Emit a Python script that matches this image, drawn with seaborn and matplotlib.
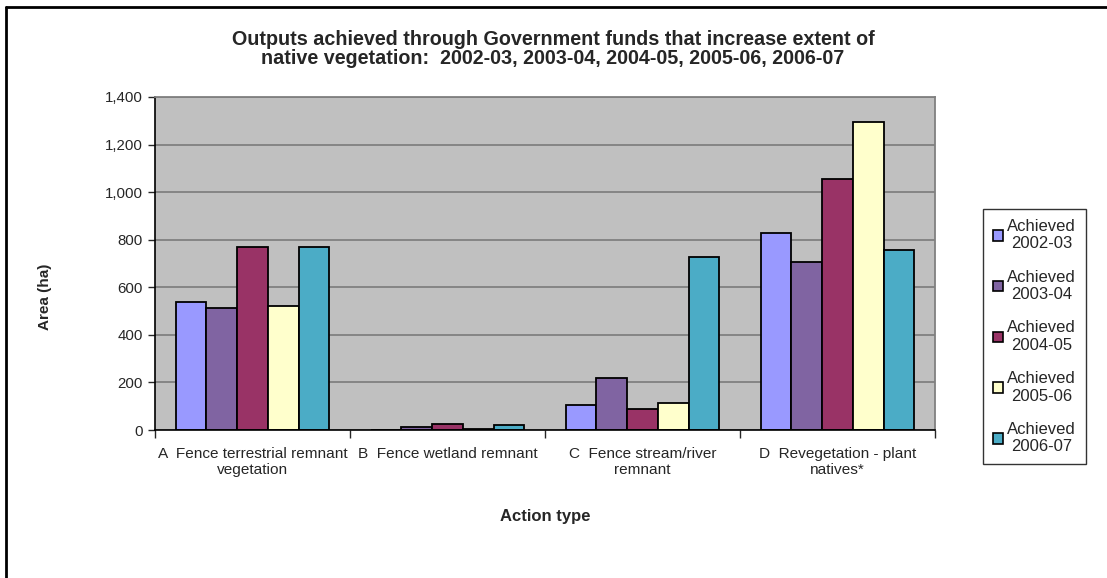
# Grouped bar chart of outputs achieved per action type and year

import pandas as pd
import seaborn as sns
import matplotlib.pyplot as plt
from matplotlib.lines import Line2D
from matplotlib.ticker import FuncFormatter, FixedLocator

categories = ['A  Fence terrestrial remnant\nvegetation',
              'B  Fence wetland remnant',
              'C  Fence stream/river\nremnant',
              'D  Revegetation - plant\nnatives*']
years = ['Achieved\n2002-03', 'Achieved\n2003-04', 'Achieved\n2004-05',
         'Achieved\n2005-06', 'Achieved\n2006-07']
achieved_2002_03 = [540, 0, 105, 828]
achieved_2003_04 = [512, 13, 218, 706]
achieved_2004_05 = [770, 27, 90, 1055]
achieved_2005_06 = [520, 5, 113, 1295]
achieved_2006_07 = [770, 22, 726, 757]
colours = ['#9999FF', '#8064A2', '#993366', '#FFFFCC', '#4BACC6']


def build_frame():
    series = [achieved_2002_03, achieved_2003_04, achieved_2004_05,
              achieved_2005_06, achieved_2006_07]
    rows = []
    for year, values in zip(years, series):
        for cat, val in zip(categories, values):
            rows.append({'category': cat, 'year': year, 'area': val})
    return pd.DataFrame(rows)


def main():
    df = build_frame()
    sns.set_style('white')
    plt.rcParams['font.family'] = ['Liberation Sans', 'DejaVu Sans']

    fig = plt.figure(figsize=(11.07, 5.78), dpi=100)
    ax = fig.add_axes([155 / 1107, 1 - 430 / 578, 780 / 1107, 333 / 578])
    ax.set_facecolor('#C0C0C0')
    ax.set_axisbelow(True)
    ax.yaxis.grid(True, color='#808080', linewidth=1.3)

    sns.barplot(data=df, x='category', y='area', hue='year', order=categories,
                hue_order=years, palette=colours, saturation=1, width=0.787,
                gap=0, edgecolor='black', linewidth=1.3, ax=ax, legend=False)

    ax.set_xlim(-0.5, 3.5)
    ax.set_ylim(0, 1400)
    ax.set_yticks(range(0, 1401, 200))
    ax.yaxis.set_major_formatter(FuncFormatter(lambda v, p: f'{int(v):,}'))
    ax.tick_params(axis='y', left=True, length=5, width=1, direction='out',
                   labelsize=10.8, pad=4)

    # category boundaries as ticks, labels in the middle
    ax.xaxis.set_major_locator(FixedLocator([-0.5, 0.5, 1.5, 2.5, 3.5]))
    ax.xaxis.set_minor_locator(FixedLocator([0, 1, 2, 3]))
    ax.set_xticklabels([], minor=False)
    ax.set_xticklabels(categories, minor=True, fontsize=11.1)
    ax.tick_params(axis='x', which='major', bottom=True, length=6, width=1,
                   direction='out')
    ax.tick_params(axis='x', which='minor', bottom=False, length=0, pad=12)
    ax.set_xlabel('')
    ax.set_ylabel('')

    for side in ['left', 'bottom']:
        ax.spines[side].set_color('black')
        ax.spines[side].set_linewidth(1.2)
    for side in ['top', 'right']:
        ax.spines[side].set_color('#808080')
        ax.spines[side].set_linewidth(1.3)

    fig.text(553 / 1107, 1 - 49 / 578,
             'Outputs achieved through Government funds that increase extent of\n'
             'native vegetation:  2002-03, 2003-04, 2004-05, 2005-06, 2006-07',
             ha='center', va='center', fontsize=14.2, fontweight='bold',
             linespacing=0.95)
    fig.text(45 / 1107, 1 - 297 / 578, 'Area (ha)', rotation=90, ha='center',
             va='center', fontsize=11, fontweight='bold')
    fig.text(545 / 1107, 1 - 516 / 578, 'Action type', ha='center',
             va='center', fontsize=12, fontweight='bold')

    handles = [plt.Rectangle((0, 0), 1, 1, facecolor=c, edgecolor='black',
                             linewidth=1.2) for c in colours]
    leg = fig.legend(handles, years, loc='upper left',
                     bbox_to_anchor=(983 / 1107, 1 - 209 / 578),
                     bbox_transform=fig.transFigure, borderaxespad=0,
                     fontsize=12, frameon=True, fancybox=False,
                     edgecolor='black', handlelength=0.6, handleheight=0.6,
                     handletextpad=0.25, labelspacing=1.1, borderpad=0.6)
    leg.get_frame().set_linewidth(1.0)
    for t in leg.get_texts():
        t.set_multialignment('center')

    # chart area border (left and top edges)
    fig.add_artist(Line2D([6 / 1107, 6 / 1107], [0, 1 - 6.5 / 578],
                          transform=fig.transFigure, color='black', linewidth=2))
    fig.add_artist(Line2D([6 / 1107, 1], [1 - 6.5 / 578, 1 - 6.5 / 578],
                          transform=fig.transFigure, color='black', linewidth=2))

    fig.savefig('out.png', dpi=100)
    plt.close(fig)


if __name__ == '__main__':
    main()
